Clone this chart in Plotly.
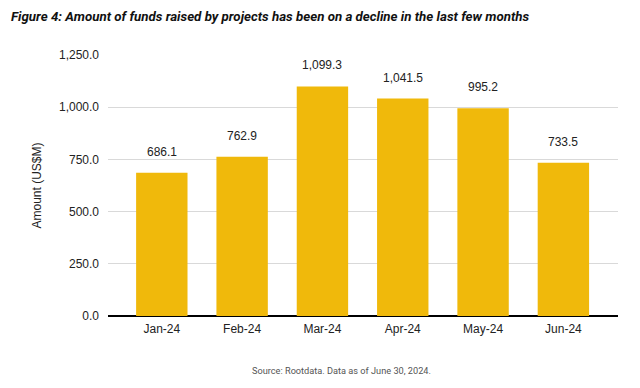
import plotly.graph_objects as go

months = ["Jan-24", "Feb-24", "Mar-24", "Apr-24", "May-24", "Jun-24"]
amounts = [686.1, 762.9, 1099.3, 1041.5, 995.2, 733.5]
y_ticks = [0, 250, 500, 750, 1000, 1250]
y_tick_labels = ["0.0", "250.0", "500.0", "750.0", "1,000.0", "1,250.0"]

fig = go.Figure()
fig.add_trace(go.Bar(
    x=months, y=amounts,
    marker=dict(color="#F0B90B", line=dict(width=0)),
    width=0.64,
    hoverinfo="skip",
))

for m, v in zip(months, amounts):
    fig.add_annotation(
        x=m, y=v, text=f"{v:,.1f}", showarrow=False,
        yanchor="bottom", yshift=12,
        font=dict(family="Liberation Sans, Arial", size=12, color="#222222"),
    )

fig.add_annotation(
    xref="paper", yref="paper", x=-0.194, y=1.149,
    xanchor="left", yanchor="middle",
    text="<b><i>Figure 4: Amount of funds raised by projects has been on a decline in the last few months</i></b>",
    showarrow=False,
    font=dict(family="Roboto, Liberation Sans", size=13.3, color="#111111"),
)
fig.add_annotation(
    xref="paper", yref="paper", x=0.457, y=-0.207,
    xanchor="center", yanchor="middle",
    text="Source: Rootdata. Data as of June 30, 2024.",
    showarrow=False,
    font=dict(family="Roboto, Liberation Sans", size=9.2, color="#555555"),
)

fig.update_layout(
    width=632, height=380,
    margin=dict(l=100, r=22, t=47, b=72, autoexpand=False),
    paper_bgcolor="white", plot_bgcolor="white",
    showlegend=False,
    xaxis=dict(
        type="category", range=[-0.67, 5.68], automargin=False,
        showgrid=False, showline=False, ticks="", ticklabelstandoff=4,
        tickfont=dict(family="Liberation Sans, Arial", size=12, color="#222222"),
    ),
    yaxis=dict(
        range=[0, 1250], tickvals=y_ticks, ticktext=y_tick_labels, automargin=False,
        showgrid=True, gridcolor="#D9D9D9", gridwidth=1,
        zeroline=True, zerolinecolor="#000000", zerolinewidth=1.5,
        showline=False, ticks="", ticklabelstandoff=8,
        tickfont=dict(family="Liberation Sans, Arial", size=12, color="#222222"),
        title=dict(text="Amount (US$M)", standoff=14,
                   font=dict(family="Liberation Sans, Arial", size=12, color="#222222")),
    ),
)

fig.write_html("out.html")
